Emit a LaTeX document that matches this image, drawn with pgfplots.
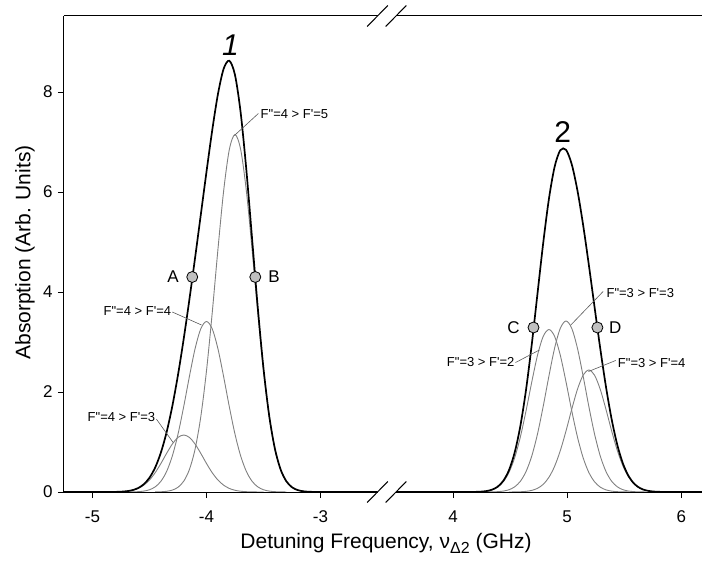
\documentclass[border=0pt]{standalone}
\usepackage{fontspec}
\setmainfont{Liberation Sans}
\usepackage{pgfplots}
\usepackage{pgfplotstable}
\pgfplotsset{compat=1.18}

\definecolor{compgray}{RGB}{128,128,128}
\definecolor{leadergray}{RGB}{90,90,90}
\definecolor{dotfill}{RGB}{192,192,192}

% ---- line 1 (F''=4 manifold): components and their sum ----
\pgfplotstableread{
x y
-4.90 0.0002
-4.85 0.0008
-4.80 0.0022
-4.75 0.0061
-4.70 0.0151
-4.65 0.0343
-4.60 0.0716
-4.55 0.1370
-4.50 0.2403
-4.45 0.3866
-4.40 0.5706
-4.35 0.7724
-4.30 0.9589
-4.25 1.0917
-4.20 1.1400
-4.15 1.0917
-4.10 0.9589
-4.05 0.7724
-4.00 0.5706
-3.95 0.3866
-3.90 0.2403
-3.85 0.1370
-3.80 0.0716
-3.75 0.0343
-3.70 0.0151
-3.65 0.0061
-3.60 0.0022
-3.55 0.0008
-3.50 0.0002
}\lineAthree

\pgfplotstableread{
x y
-4.70 0.0007
-4.65 0.0023
-4.60 0.0067
-4.55 0.0182
-4.50 0.0451
-4.45 0.1026
-4.40 0.2141
-4.35 0.4096
-4.30 0.7187
-4.25 1.1565
-4.20 1.7068
-4.15 2.3105
-4.10 2.8683
-4.05 3.2657
-4.00 3.4100
-3.95 3.2657
-3.90 2.8683
-3.85 2.3105
-3.80 1.7068
-3.75 1.1565
-3.70 0.7187
-3.65 0.4096
-3.60 0.2141
-3.55 0.1026
-3.50 0.0451
-3.45 0.0182
-3.40 0.0067
-3.35 0.0023
-3.30 0.0007
}\lineAfour

\pgfplotstableread{
x y
-4.45 0.0015
-4.40 0.0048
-4.35 0.0141
-4.30 0.0381
-4.25 0.0946
-4.20 0.2152
-4.15 0.4489
-4.10 0.8589
-4.05 1.5069
-4.00 2.4249
-3.95 3.5789
-3.90 4.8446
-3.85 6.0141
-3.80 6.8473
-3.75 7.1500
-3.70 6.8473
-3.65 6.0141
-3.60 4.8446
-3.55 3.5789
-3.50 2.4249
-3.45 1.5069
-3.40 0.8589
-3.35 0.4489
-3.30 0.2152
-3.25 0.0946
-3.20 0.0381
-3.15 0.0141
-3.10 0.0048
-3.05 0.0015
}\lineAfive

\pgfplotstableread{
x y
-5.25 0
-4.95 0
-4.90 0.0002
-4.85 0.0008
-4.80 0.0023
-4.75 0.0063
-4.70 0.0158
-4.65 0.0366
-4.60 0.0783
-4.55 0.1553
-4.50 0.2858
-4.45 0.4907
-4.40 0.7895
-4.35 1.1961
-4.30 1.7157
-4.25 2.3428
-4.20 3.0620
-4.15 3.8511
-4.10 4.6861
-4.05 5.5450
-4.00 6.4055
-3.95 7.2312
-3.90 7.9532
-3.85 8.4616
-3.80 8.6257
-3.75 8.3408
-3.70 7.5811
-3.65 6.4298
-3.60 5.0609
-3.55 3.6823
-3.50 2.4702
-3.45 1.5251
-3.40 0.8656
-3.35 0.4512
-3.30 0.2159
-3.25 0.0948
-3.20 0.0381
-3.15 0.0141
-3.10 0.0048
-3.05 0.0015
-3.00 0.0004
-2.50 0
}\lineAsum

% ---- line 2 (F''=3 manifold): components and their sum ----
\pgfplotstableread{
x y
4.14 0.0007
4.19 0.0022
4.24 0.0064
4.29 0.0173
4.34 0.0430
4.39 0.0978
4.44 0.2041
4.49 0.3904
4.54 0.6849
4.59 1.1022
4.64 1.6268
4.69 2.2021
4.74 2.7337
4.79 3.1124
4.84 3.2500
4.89 3.1124
4.94 2.7337
4.99 2.2021
5.04 1.6268
5.09 1.1022
5.14 0.6849
5.19 0.3904
5.24 0.2041
5.29 0.0978
5.34 0.0430
5.39 0.0173
5.44 0.0064
5.49 0.0022
5.54 0.0007
}\lineBtwo

\pgfplotstableread{
x y
4.29 0.0007
4.34 0.0023
4.39 0.0067
4.44 0.0182
4.49 0.0452
4.54 0.1029
4.59 0.2147
4.64 0.4108
4.69 0.7208
4.74 1.1599
4.79 1.7118
4.84 2.3173
4.89 2.8767
4.94 3.2752
4.99 3.4200
5.04 3.2752
5.09 2.8767
5.14 2.3173
5.19 1.7118
5.24 1.1599
5.29 0.7208
5.34 0.4108
5.39 0.2147
5.44 0.1029
5.49 0.0452
5.54 0.0182
5.59 0.0067
5.64 0.0023
5.69 0.0007
}\lineBthree

\pgfplotstableread{
x y
4.49 0.0005
4.54 0.0016
4.59 0.0048
4.64 0.0130
4.69 0.0323
4.74 0.0734
4.79 0.1532
4.84 0.2931
4.89 0.5142
4.94 0.8275
4.99 1.2213
5.04 1.6533
5.09 2.0524
5.14 2.3367
5.19 2.4400
5.24 2.3367
5.29 2.0524
5.34 1.6533
5.39 1.2213
5.44 0.8275
5.49 0.5142
5.54 0.2931
5.59 0.1532
5.64 0.0734
5.69 0.0323
5.74 0.0130
5.79 0.0048
5.84 0.0016
5.89 0.0005
}\lineBfour

\pgfplotstableread{
x y
3.50 0
4.09 0
4.14 0.0007
4.19 0.0022
4.24 0.0066
4.29 0.0180
4.34 0.0453
4.39 0.1045
4.44 0.2224
4.49 0.4361
4.54 0.7894
4.59 1.3217
4.64 2.0506
4.69 2.9552
4.74 3.9670
4.79 4.9774
4.84 5.8604
4.89 6.5033
4.94 6.8364
4.99 6.8434
5.04 6.5553
5.09 6.0313
5.14 5.3389
5.19 4.5422
5.24 3.7007
5.29 2.8710
5.34 2.1071
5.39 1.4533
5.44 0.9368
5.49 0.5616
5.54 0.3120
5.59 0.1601
5.64 0.0757
5.69 0.0330
5.74 0.0132
5.79 0.0048
5.84 0.0016
5.89 0.0005
5.94 0
6.18 0
}\lineBsum

% straight quotes for the hyperfine labels
\newcommand{\qs}{\textquotesingle}
\newcommand{\qd}{\textquotedbl}

\tikzset{
  note/.style={font=\fontsize{13}{13}\selectfont, inner sep=1pt},
  lead/.style={leadergray, line width=0.6pt},
  brk/.style={black, line width=1pt},
}
% axis-break slash centred on a point
\newcommand{\breakmark}[1]{%
  \draw[brk] ([shift={(-10.3pt,-10.5pt)}]#1) -- ([shift={(10.3pt,10.5pt)}]#1);}

\pgfplotsset{
  panel/.style={
    scale only axis, height=476pt, ymin=0, ymax=9.52, clip=false,
    axis line style={draw=none},
    tick align=outside, xtick pos=left, ytick pos=left,
    major tick length=6pt,
    tick style={black, line width=0.9pt},
    ticklabel style={font=\fontsize{17}{17}\selectfont},
    xticklabel style={yshift=-9pt},
    yticklabel style={xshift=-2pt},
  },
  compline/.style={compgray, line width=0.9pt, smooth, tension=0.5},
  total/.style={black, line width=1.7pt, smooth, tension=0.5},
  dot/.style={only marks, mark=*, mark size=5.5pt,
    mark options={fill=dotfill, draw=black, line width=0.8pt}},
}

\begin{document}
\begin{tikzpicture}[x=1pt,y=1pt]
\useasboundingbox (0,0) rectangle (702,568);

% left panel
\begin{axis}[panel, at={(64pt,76pt)}, anchor=south west, width=313.5pt,
  xmin=-5.25, xmax=-2.5,
  xtick={-5,-4,-3}, xticklabels={-5,-4,-3},
  ytick={0,2,4,6,8}, yticklabels={0,2,4,6,8}]
  \addplot[compline] table {\lineAthree};
  \addplot[compline] table {\lineAfour};
  \addplot[compline] table {\lineAfive};
  \addplot[total] table {\lineAsum};
  \addplot[dot] coordinates {(-4.125,4.3) (-3.572,4.3)};
  \draw[brk] (rel axis cs:0,1) -- (rel axis cs:0,0) -- (rel axis cs:1,0);
  \draw[brk] (rel axis cs:0,1) -- (rel axis cs:1,1);
  \breakmark{rel axis cs:1,0}
  \breakmark{rel axis cs:1,1}
  \node[font=\fontsize{30}{30}\selectfont\itshape] at (axis cs:-3.79,8.94) {1};
  \node[font=\fontsize{17}{17}\selectfont] at (axis cs:-4.293,4.3) {A};
  \node[font=\fontsize{17}{17}\selectfont] at (axis cs:-3.407,4.3) {B};
  \draw[lead] (axis cs:-3.545,7.57) -- (axis cs:-3.755,7.13);
  \node[note, anchor=west] at (axis cs:-3.535,7.55) {F\qd=4 > F\qs=5};
  \draw[lead] (axis cs:-4.300,3.60) -- (axis cs:-4.044,3.34);
  \node[note, anchor=east] at (axis cs:-4.300,3.61) {F\qd=4 > F\qs=4};
  \draw[lead] (axis cs:-4.440,1.46) -- (axis cs:-4.293,0.99);
  \node[note, anchor=east] at (axis cs:-4.440,1.49) {F\qd=4 > F\qs=3};
\end{axis}

% right panel
\begin{axis}[panel, at={(396pt,76pt)}, anchor=south west, width=305.8pt,
  xmin=3.5, xmax=6.18,
  xtick={4,5,6}, xticklabels={4,5,6},
  ytick=\empty]
  \addplot[compline] table {\lineBtwo};
  \addplot[compline] table {\lineBthree};
  \addplot[compline] table {\lineBfour};
  \addplot[total] table {\lineBsum};
  \addplot[dot] coordinates {(4.705,3.29) (5.265,3.29)};
  \draw[brk] (rel axis cs:0,0) -- (rel axis cs:1,0);
  \draw[brk] (rel axis cs:0,1) -- (rel axis cs:1,1);
  \breakmark{rel axis cs:0,0}
  \breakmark{rel axis cs:0,1}
  \node[font=\fontsize{30}{30}\selectfont] at (axis cs:4.96,7.19) {2};
  \node[font=\fontsize{17}{17}\selectfont] at (axis cs:4.529,3.29) {C};
  \node[font=\fontsize{17}{17}\selectfont] at (axis cs:5.421,3.29) {D};
  \draw[lead] (axis cs:5.315,4.01) -- (axis cs:5.032,3.34);
  \node[note, anchor=west] at (axis cs:5.335,3.97) {F\qd=3 > F\qs=3};
  \draw[lead] (axis cs:5.425,2.63) -- (axis cs:5.187,2.41);
  \node[note, anchor=west] at (axis cs:5.435,2.57) {F\qd=3 > F\qs=4};
  \draw[lead] (axis cs:4.548,2.59) -- (axis cs:4.757,2.84);
  \node[note, anchor=east] at (axis cs:4.548,2.59) {F\qd=3 > F\qs=2};
\end{axis}

% axis titles spanning both panels
\node[rotate=90, font=\fontsize{21}{21}\selectfont] at (25pt,315.5pt) {Absorption (Arb. Units)};
\node[anchor=base, font=\fontsize{21}{21}\selectfont] at (386pt,19pt)
  {Detuning Frequency, ν\raisebox{-4.5pt}{\fontsize{16}{16}\selectfont Δ2} (GHz)};
\end{tikzpicture}
\end{document}
